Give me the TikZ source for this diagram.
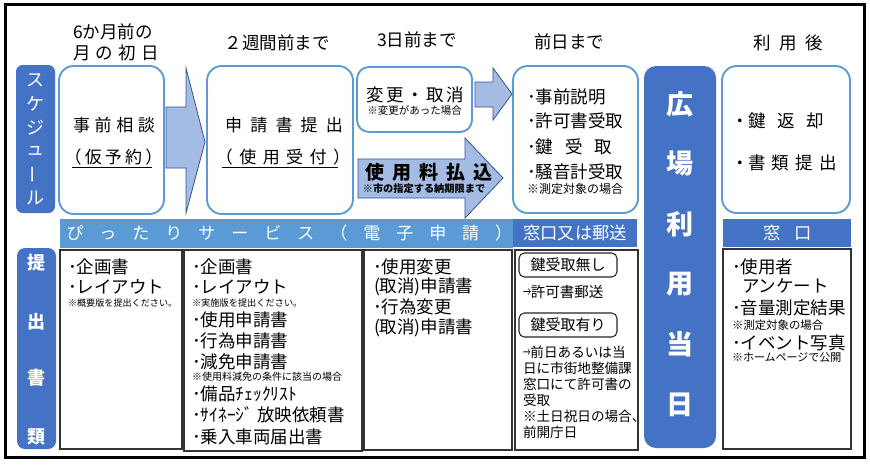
\documentclass[tikz,border=0pt]{standalone}
\usepackage{fontspec}
\setmainfont{Noto Sans CJK JP}
\definecolor{dblue}{HTML}{4472C4}
\definecolor{lblue}{HTML}{5B9BD5}
\definecolor{afill}{HTML}{A4BBE3}
\definecolor{aline}{HTML}{2F5597}
\newcommand\fpx[1]{\fontsize{\fpeval{#1*0.75}pt}{\fpeval{#1*0.9}pt}\selectfont}
\newcommand\lsp[2]{{\addfontfeatures{LetterSpace=#1}#2}}
\newcommand\narr{\scalebox{0.55}[1]{→}}
\begin{document}
\begin{tikzpicture}[x=0.75pt,y=-0.75pt,
  txt/.style={inner sep=0pt, outer sep=0pt},
  lw/.style={txt, anchor=west},
  sbox/.style={draw=lblue, line width=1.4pt, rounded corners=11pt, fill=white},
  docbox/.style={draw=black!80, line width=0.9pt, fill=white},
  barrow/.style={fill=afill, draw=aline, line width=0.6pt},
  keybox/.style={draw=black!85, line width=0.8pt, rounded corners=4pt},
  wtxt/.style={txt, text=white}]
\useasboundingbox (0,0) rectangle (870,464);
\fill[white] (0,0) rectangle (870,464);
\draw[line width=2.25pt] (5.5,4.5) rectangle (864.5,457.5);

% schedule label
\fill[dblue, rounded corners=5pt] (16,65) rectangle (55,213);
\foreach \c [count=\i] in {ス,ケ,ジ,ュ,{\rotatebox[origin=c]{90}{ー}},ル}
  \node[wtxt, font=\fpx{18}] (sch\i) at (35.5,{80+23.6*(\i-1)}) {\c};

% headers
\node[txt, font=\fpx{17.5}] (h1a) at (113,32) {6か月前の};
\node[txt, font=\fpx{17.5}] (h1b) at (116,53) {\lsp{29}{月の初日}};
\node[txt, font=\fpx{17.5}] (h2) at (277,43) {２週間前まで};
\node[txt, font=\fpx{17.5}] (h3) at (417,40) {3日前まで};
\node[txt, font=\fpx{17.5}] (h4) at (569,42) {前日まで};
\node[txt, font=\fpx{17.5}] (h5) at (788,43) {\lsp{50}{利用後}};

% box 1
\draw[sbox] (59,66) rectangle (164,214);
\node[txt, font=\fpx{17}] (b1a) at (114,125) {\lsp{27}{事前相談}};
\node[txt, font=\fpx{17}] (b1b) at (113.5,157) {\lsp{19}{（仮予約）}};
\draw[line width=0.6pt] (72,167) -- (152,167);

% arrow 1
\draw[barrow] (166,107) -- (186,107) -- (186,68) -- (205,142) -- (186,213) -- (186,168) -- (166,168) -- cycle;

% box 2
\draw[sbox] (207,66) rectangle (353,214);
\node[txt, font=\fpx{17}] (b2a) at (284,125) {\lsp{48}{申請書提出}};
\node[txt, font=\fpx{17}] (b2b) at (283,157) {\lsp{38}{（使用受付）}};
\draw[line width=0.6pt] (222,167) -- (338,167);

% box 3
\draw[sbox, rounded corners=9pt] (357,67) rectangle (472,132);
\node[txt, font=\fpx{17.5}] (b3a) at (415.5,95) {\lsp{14}{変更・取消}};
\node[txt, font=\fpx{10.5}] (b3b) at (414.5,110) {※変更があった場合};

% arrow 2
\draw[barrow] (475,82) -- (493,82) -- (493,68) -- (512,94) -- (493,120) -- (493,107) -- (475,107) -- cycle;

% arrow 3
\draw[barrow] (358,159) -- (465,159) -- (465,138) -- (503,178) -- (465,218) -- (465,198) -- (358,198) -- cycle;
\node[txt, font=\fpx{19}\bfseries] (a3a) at (429,172) {\lsp{41}{使用料払込}};
\node[txt, font=\fpx{10.2}\bfseries] (a3b) at (424,189) {※市の指定する納期限まで};

% box 4
\draw[sbox] (513,66) rectangle (638,213);
\node[lw, font=\fpx{17.5}] (b4a) at (527,97) {･事前説明};
\node[lw, font=\fpx{17.5}] (b4b) at (527,121) {･許可書受取};
\node[lw, font=\fpx{17.5}] (b4c) at (527,147) {･鍵\hspace{9pt}受\hspace{9pt}取};
\node[lw, font=\fpx{17.5}] (b4d) at (527,172) {･騒音計受取};
\node[lw, font=\fpx{12}] (b4e) at (527,189) {※測定対象の場合};

% event day
\fill[dblue, rounded corners=9pt] (644,66) rectangle (716,448);
\foreach \c/\y [count=\i] in {広/104,場/163,利/224,用/284,当/344,日/405}
  \node[wtxt, font=\fpx{27}\bfseries] (day\i) at (680,\y) {\c};

% box 5
\draw[sbox] (722,66) rectangle (850,213);
\node[lw, font=\fpx{17.5}] (b5a) at (731,121) {・鍵\hspace{8.6pt}返\hspace{8.6pt}却};
\node[lw, font=\fpx{17.5}] (b5b) at (731,163) {・書\hspace{4.5pt}類\hspace{4.5pt}提\hspace{4.5pt}出};

% banners
\draw[fill=lblue, draw=lblue] (60,219) rectangle (512,247);
\node[wtxt, anchor=west, font=\fpx{17}] (ban1) at (66.5,233) {\lsp{94}{ぴったりサービス（電子申請）}};
\fill[dblue] (513,219) rectangle (637,247);
\node[wtxt, font=\fpx{17.3}] (ban2) at (575,233) {窓口又は郵送};
\fill[dblue] (723,219) rectangle (851,247);
\node[wtxt, font=\fpx{17.3}] (ban3) at (787.5,233) {窓\hspace{9.75pt}口};

% documents label
\fill[dblue, rounded corners=6pt] (17,248) rectangle (56,449);
\foreach \c/\y [count=\i] in {提/263,出/322,書/378,類/437}
  \node[wtxt, font=\fpx{18}\bfseries] (doc\i) at (36.5,\y) {\c};

% document boxes
\draw[docbox] (60,250) rectangle (182,449);
\draw[docbox] (184,250) rectangle (362,451);
\draw[docbox] (364,250) rectangle (512,450);
\draw[docbox] (515,250) rectangle (638,450);
\draw[docbox] (723,249) rectangle (851,449);

% box A
\node[lw, font=\fpx{17.5}] (da1) at (68,267) {･企画書};
\node[lw, font=\fpx{17.5}] (da2) at (68,287) {･レイアウト};
\node[lw, font=\fpx{9.1}] (da3) at (68,303) {※概要版を提出ください。};

% box B
\node[lw, font=\fpx{17.5}] (db1) at (192,267) {･企画書};
\node[lw, font=\fpx{17.5}] (db2) at (192,287) {･レイアウト};
\node[lw, font=\fpx{9.2}] (db3) at (192,303) {※実施版を提出ください。};
\node[lw, font=\fpx{17.5}] (db4) at (192,320) {･使用申請書};
\node[lw, font=\fpx{17.5}] (db5) at (192,341) {･行為申請書};
\node[lw, font=\fpx{17.5}] (db6) at (192,362) {･減免申請書};
\node[lw, font=\fpx{10}] (db7) at (192,377) {※使用料減免の条件に該当の場合};
\node[lw, font=\fpx{17.5}] (db8) at (192,394) {･備品ﾁｪｯｸﾘｽﾄ};
\node[lw, font=\fpx{17.5}] (db9) at (192,415) {･ｻｲﾈｰｼﾞ 放映依頼書};
\node[lw, font=\fpx{17.5}] (db10) at (192,437) {･乗入車両届出書};

% box C
\node[lw, font=\fpx{17.5}] (dc1) at (373,267) {･使用変更};
\node[lw, font=\fpx{17.5}] (dc2) at (374,287) {(取消)申請書};
\node[lw, font=\fpx{17.5}] (dc3) at (373,307) {･行為変更};
\node[lw, font=\fpx{17.5}] (dc4) at (374,328) {(取消)申請書};

% box D
\draw[keybox] (519,253) rectangle (617,277);
\node[txt, font=\fpx{15}] (dd1) at (568,265) {鍵受取無し};
\node[lw, font=\fpx{14.5}] (dd2) at (523,292) {\narr 許可書郵送};
\draw[keybox] (519,313) rectangle (617,337);
\node[txt, font=\fpx{15}] (dd3) at (568,325) {鍵受取有り};
\node[lw, font=\fpx{13.6}] (dd4) at (523,352) {\narr 前日あるいは当};
\node[lw, font=\fpx{13.6}] (dd5) at (523,368) {日に市街地整備課};
\node[lw, font=\fpx{13.6}] (dd6) at (523,384) {窓口にて許可書の};
\node[lw, font=\fpx{13.6}] (dd7) at (523,400) {受取};
\node[lw, font=\fpx{13.6}] (dd8) at (523,416) {※土日祝日の場合、};
\node[lw, font=\fpx{13.6}] (dd9) at (523,432) {前開庁日};

% box E
\node[lw, font=\fpx{17.5}] (de1) at (732,267) {･使用者};
\node[lw, font=\fpx{17.5}] (de2) at (742,286) {アンケート};
\node[lw, font=\fpx{17.5}] (de3) at (732,308) {･音量測定結果};
\node[lw, font=\fpx{11.4}] (de4) at (732,325) {※測定対象の場合};
\node[lw, font=\fpx{17.5}] (de5) at (732,343) {･イベント写真};
\node[lw, font=\fpx{11}] (de6) at (732,358) {※ホームページで公開};
\end{tikzpicture}
\end{document}
